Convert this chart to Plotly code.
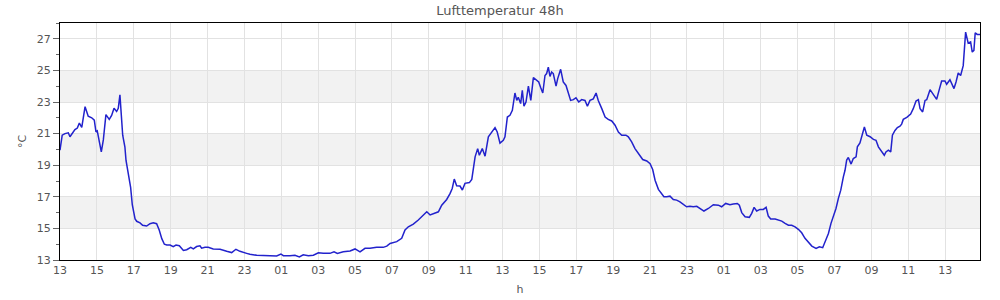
import pandas as pd
import plotly.graph_objects as go

# hours since start (13:00 day 1)
hours = [0.00, 0.12, 0.27, 0.45, 0.54, 0.69, 0.81, 0.94, 1.05, 1.18, 1.36, 1.53, 1.72, 1.86, 1.95, 2.02,
         2.24, 2.35, 2.49, 2.67, 2.80, 2.93, 3.07, 3.16, 3.25, 3.40, 3.52, 3.58, 3.70, 3.83, 3.92, 4.07,
         4.16, 4.34, 4.48, 4.70, 4.88, 5.06, 5.24, 5.38, 5.52, 5.66, 5.79, 5.97, 6.14, 6.29, 6.47, 6.69,
         6.87, 7.09, 7.23, 7.41, 7.59, 7.68, 7.86, 8.04, 8.31, 8.68, 9.04, 9.31, 9.54, 9.76, 10.12, 10.30,
         10.67, 11.02, 11.39, 11.75, 11.98, 12.11, 12.47, 12.74, 12.98, 13.19, 13.47, 13.74, 14.01, 14.28,
         14.64, 14.86, 15.04, 15.36, 15.73, 16.00, 16.27, 16.54, 16.81, 17.17, 17.53, 17.72, 17.90, 18.26,
         18.53, 18.71, 18.89, 19.16, 19.43, 19.67, 19.89, 20.07, 20.34, 20.52, 20.70, 20.97, 21.15, 21.27,
         21.38, 21.51, 21.69, 21.82, 21.96, 22.20, 22.33, 22.51, 22.65, 22.74, 22.90, 23.05, 23.23, 23.36,
         23.59, 23.71, 23.82, 23.86, 24.04, 24.13, 24.26, 24.40, 24.53, 24.67, 24.77, 24.85, 24.98, 25.07,
         25.16, 25.27, 25.40, 25.53, 25.67, 25.81, 25.96, 26.07, 26.18, 26.30, 26.39, 26.48, 26.57, 26.66,
         26.75, 26.90, 26.99, 27.15, 27.29, 27.44, 27.56, 27.69, 27.84, 27.98, 28.13, 28.29, 28.47, 28.60,
         28.74, 28.92, 29.07, 29.19, 29.38, 29.56, 29.73, 29.92, 30.10, 30.28, 30.46, 30.69, 30.82, 31.00,
         31.18, 31.42, 31.60, 31.82, 32.00, 32.14, 32.27, 32.45, 32.63, 32.75, 32.90, 33.08, 33.26, 33.44,
         33.62, 33.80, 33.98, 34.16, 34.34, 34.53, 34.71, 34.92, 35.16, 35.43, 35.70, 35.88, 36.10, 36.33,
         36.51, 36.73, 36.84, 36.97, 37.15, 37.38, 37.51, 37.64, 37.78, 37.96, 38.14, 38.29, 38.41, 38.54,
         38.78, 38.96, 39.14, 39.32, 39.50, 39.68, 39.86, 40.04, 40.22, 40.40, 40.58, 40.77, 41.00, 41.18,
         41.36, 41.49, 41.67, 41.81, 41.97, 42.08, 42.21, 42.34, 42.48, 42.57, 42.66, 42.75, 42.90, 43.02,
         43.17, 43.24, 43.38, 43.51, 43.62, 43.75, 43.93, 44.11, 44.25, 44.38, 44.56, 44.70, 44.79, 44.92,
         45.05, 45.14, 45.28, 45.41, 45.55, 45.64, 45.73, 45.92, 46.13, 46.27, 46.42, 46.55, 46.64, 46.78,
         46.91, 47.00, 47.18, 47.32, 47.54, 47.68, 47.81, 47.99, 48.08, 48.26, 48.35, 48.48, 48.59, 48.71,
         48.84, 48.98, 49.11, 49.25, 49.38, 49.47, 49.56, 49.63, 49.74, 49.89]

temps = [19.95, 20.9, 21.0, 21.05, 20.8, 21.05, 21.25, 21.35, 21.67, 21.4, 22.7, 22.1, 22.0, 21.85, 21.1, 21.17,
         19.85, 20.6, 22.2, 21.9, 22.15, 22.6, 22.4, 22.6, 23.45, 20.9, 20.15, 19.3, 18.5, 17.6, 16.5, 15.6,
         15.45, 15.35, 15.2, 15.15, 15.3, 15.35, 15.3, 14.9, 14.35, 14.0, 13.95, 13.95, 13.85, 13.95, 13.9, 13.6,
         13.65, 13.8, 13.7, 13.85, 13.9, 13.75, 13.8, 13.8, 13.7, 13.68, 13.55, 13.47, 13.68, 13.55, 13.42, 13.36,
         13.3, 13.27, 13.25, 13.25, 13.38, 13.27, 13.27, 13.3, 13.2, 13.33, 13.27, 13.3, 13.46, 13.42,
         13.42, 13.52, 13.42, 13.52, 13.57, 13.7, 13.52, 13.74, 13.74, 13.8, 13.8, 13.88, 14.05, 14.16,
         14.37, 14.9, 15.1, 15.27, 15.53, 15.78, 16.05, 15.85, 15.95, 16.05, 16.47, 16.83, 17.2, 17.53,
         18.12, 17.7, 17.68, 17.43, 17.85, 17.9, 18.1, 19.53, 20.05, 19.63, 20.05, 19.57, 20.8, 21.0,
         21.38, 21.1, 20.47, 20.4, 20.58, 20.8, 22.05, 22.16, 22.47, 23.57, 23.1, 23.3, 22.9, 23.74,
         22.73, 23.0, 24.0, 23.1, 24.54, 24.4, 24.27, 23.9, 23.57, 24.68, 24.8, 25.2, 24.62, 24.9,
         24.8, 24.0, 24.48, 25.07, 24.27, 24.05, 23.53, 23.1, 23.15, 23.27, 23.0, 23.15, 23.1, 22.73,
         23.1, 23.2, 23.57, 23.1, 22.58, 22.05, 21.9, 21.8, 21.53, 21.1, 20.9, 20.9, 20.8, 20.47,
         20.05, 19.63, 19.36, 19.27, 19.1, 18.73, 18.05, 17.47, 17.2, 17.0, 17.0, 17.04, 16.83, 16.79,
         16.68, 16.54, 16.37, 16.4, 16.37, 16.4, 16.26, 16.1, 16.26, 16.5, 16.47, 16.37, 16.58, 16.5,
         16.54, 16.58, 16.47, 16.0, 15.74, 15.7, 15.95, 16.33, 16.1, 16.2, 16.2, 16.33, 15.78, 15.59,
         15.59, 15.53, 15.46, 15.32, 15.2, 15.2, 15.1, 14.94, 14.72, 14.37, 14.16, 13.88, 13.74, 13.84,
         13.78, 14.16, 14.68, 15.32, 15.84, 16.26, 16.9, 17.42, 18.26, 18.68, 19.32, 19.49, 19.07, 19.42,
         19.53, 20.16, 20.41, 21.0, 21.42, 20.9, 20.8, 20.63, 20.58, 20.16, 19.84, 19.63, 19.84, 19.95,
         19.84, 20.9, 21.2, 21.38, 21.47, 21.6, 21.9, 22.03, 22.24, 22.58, 23.06, 23.15, 22.58, 22.37,
         23.1, 23.15, 23.78, 23.53, 23.17, 23.78, 24.33, 24.33, 24.12, 24.41, 24.16, 23.85, 24.27, 24.84,
         24.68, 25.3, 27.42, 26.73, 26.8, 26.16, 26.27, 27.38, 27.28, 27.28]

start = pd.Timestamp("2024-06-01 13:00")
times = [start + pd.Timedelta(hours=h) for h in hours]

bands = [(15, 17), (19, 21), (23, 25)]

fig = go.Figure()
fig.add_trace(go.Scatter(x=times, y=temps, mode="lines",
                         line=dict(color="#2222cc", width=1.5), hoverinfo="skip"))

for y0, y1 in bands:
    fig.add_shape(type="rect", xref="paper", yref="y", x0=0, x1=1, y0=y0, y1=y1,
                  fillcolor="#f2f2f2", line_width=0, layer="below")

font = "DejaVu Sans, sans-serif"
fig.update_layout(
    width=1000, height=300,
    margin=dict(l=60, r=20, t=23, b=40),
    paper_bgcolor="white", plot_bgcolor="white",
    showlegend=False,
    font=dict(family=font, size=11, color="#555"),
    title=dict(text="Lufttemperatur 48h", x=0.5, xref="container", xanchor="center",
               y=1 - 10 / 300, yref="container", yanchor="middle",
               font=dict(family=font, size=13, color="#555")),
)
fig.update_xaxes(
    type="date", range=[times[0], times[-1]], automargin=False,
    tickformat="%H", dtick=2 * 3600 * 1000, tick0=start,
    showgrid=True, gridcolor="#e2e2e2", gridwidth=1,
    showline=True, linecolor="black", linewidth=1, mirror=True,
    ticks="", zeroline=False,
    title=dict(text="h", standoff=9, font=dict(size=11, color="#555")),
)
fig.update_yaxes(
    range=[13, 28], dtick=2, tick0=13, automargin=False,
    showgrid=True, gridcolor="#e2e2e2", gridwidth=1,
    showline=True, linecolor="black", linewidth=1, mirror=True,
    ticks="outside", ticklen=6, tickcolor="#666", zeroline=False,
    minor=dict(dtick=1, tick0=13, ticks="outside", ticklen=3, tickcolor="#666", showgrid=False),
    title=dict(text="°C", standoff=7, font=dict(size=11, color="#555")),
)

fig.write_html("out.html")
